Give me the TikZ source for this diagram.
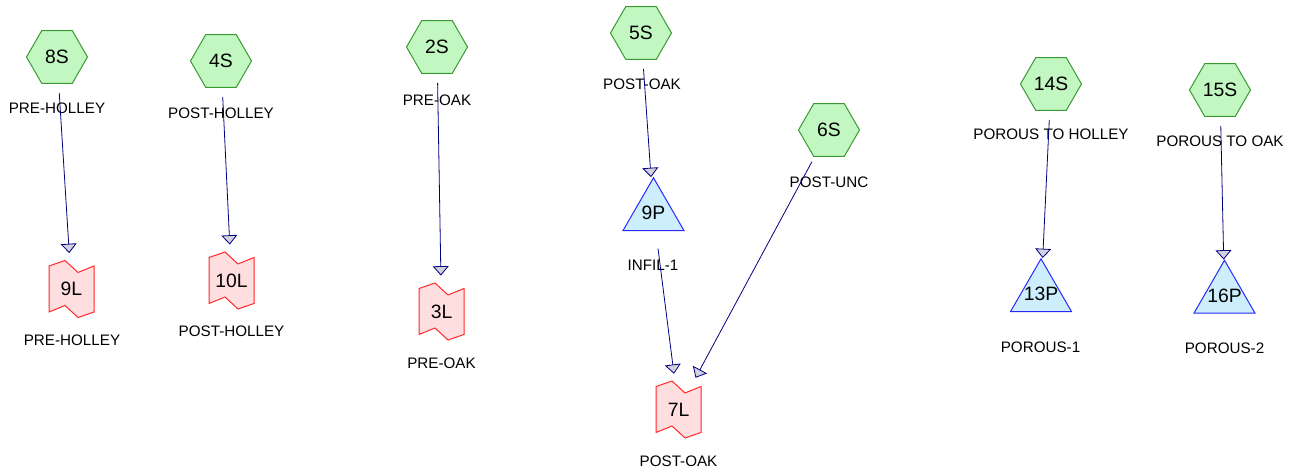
\documentclass[tikz,border=0pt]{standalone}
\usepackage{fontspec}
\setmainfont{Liberation Sans}
\usetikzlibrary{shapes.geometric, arrows.meta}

\definecolor{hexfill}{RGB}{194,247,194}
\definecolor{hexline}{RGB}{58,154,50}
\definecolor{trifill}{RGB}{205,239,253}
\definecolor{triline}{RGB}{40,40,255}
\definecolor{layfill}{RGB}{255,222,223}
\definecolor{layline}{RGB}{255,40,40}
\definecolor{edgeblue}{RGB}{0,0,128}
\definecolor{tipgray}{RGB}{210,210,220}

\newcommand{\nodefont}{\fontsize{14.5pt}{17pt}\selectfont}
\newcommand{\lblfont}{\fontsize{11.4pt}{13pt}\selectfont}

% notched outline of a layer, centred on #1
\newcommand{\layshape}[1]{%
  \draw[layout, shift={#1}]
    (-22.5,-23) -- (-6.5,-28.5) -- (6.5,-16.5) -- (22.5,-23)
    -- (22.5,23) -- (6.5,28.5) -- (-6.5,16.5) -- (-22.5,23) -- cycle;}

\begin{document}
\begin{tikzpicture}[
    x=0.75pt, y=-0.75pt,
    lbl/.style={font=\lblfont, inner sep=0pt, anchor=center},
    src/.style={regular polygon, regular polygon sides=6, minimum size=45.75pt,
      inner sep=0pt, draw=hexline, fill=hexfill, line width=0.75pt,
      font=\nodefont},
    pnt/.style={regular polygon, regular polygon sides=3, minimum size=52.8pt,
      inner sep=-5pt, draw=triline, fill=trifill, line width=0.75pt,
      font=\nodefont},
    lyr/.style={rectangle, minimum width=35.25pt, minimum height=44.25pt,
      inner sep=0pt, font=\nodefont},
    layout/.style={draw=layline, fill=layfill, line width=0.75pt},
    flow/.style={draw=edgeblue, line width=0.6pt,
      -{Triangle[length=7pt, width=12pt, fill=tipgray]},
      shorten <=27pt, shorten >=27pt}
  ]
  \useasboundingbox (0,0) rectangle (1297,473);

  % sources
  \node[src] (s8) at (57,57) {8S};
  \node[src] (s4) at (221,61) {4S};
  \node[src] (s2) at (437,47) {2S};
  \node[src] (s5) at (641,33) {5S};
  \node[src] (s6) at (829,130) {6S};
  \node[src] (s14) at (1051,84) {14S};
  \node[src] (s15) at (1220,90) {15S};

  \node[lbl] (s8-name) at (57,108) {PRE-HOLLEY};
  \node[lbl] (s4-name) at (221,113) {POST-HOLLEY};
  \node[lbl] (s2-name) at (437,100) {PRE-OAK};
  \node[lbl] (s5-name) at (642,84) {POST-OAK};
  \node[lbl] (s6-name) at (829,182) {POST-UNC};
  \node[lbl] (s14-name) at (1051,134) {POROUS TO HOLLEY};
  \node[lbl] (s15-name) at (1220,141) {POROUS TO OAK};

  % points
  \node[pnt] (p9) at (653.5,213) {9P};
  \node[pnt] (p13) at (1041,294) {13P};
  \node[pnt] (p16) at (1224.5,295.5) {16P};

  \node[lbl] (p9-name) at (653,265) {INFIL-1};
  \node[lbl] (p13-name) at (1040.5,347) {POROUS-1};
  \node[lbl] (p16-name) at (1224.5,348) {POROUS-2};

  % layers
  \layshape{(71.5,289)}
  \layshape{(231.5,280.5)}
  \layshape{(441.5,311.5)}
  \layshape{(678.5,409.5)}
  \node[lyr] (l9) at (71.5,289) {9L};
  \node[lyr] (l10) at (231.5,280.5) {10L};
  \node[lyr] (l3) at (441.5,311.5) {3L};
  \node[lyr] (l7) at (678.5,409.5) {7L};

  \node[lbl] (l9-name) at (72,340) {PRE-HOLLEY};
  \node[lbl] (l10-name) at (231.5,331) {POST-HOLLEY};
  \node[lbl] (l3-name) at (441.5,363) {PRE-OAK};
  \node[lbl] (l7-name) at (678.5,461) {POST-OAK};

  % links
  \draw[flow] (s8.center) -- (l9.center);
  \draw[flow] (s4.center) -- (l10.center);
  \draw[flow] (s2.center) -- (l3.center);
  \draw[flow] (s5.center) -- (p9.center);
  \draw[flow] (p9.center) -- (l7.center);
  \draw[flow] (s6.center) -- (l7.center);
  \draw[flow] (s14.center) -- (p13.center);
  \draw[flow] (s15.center) -- (p16.center);

\end{tikzpicture}
\end{document}
